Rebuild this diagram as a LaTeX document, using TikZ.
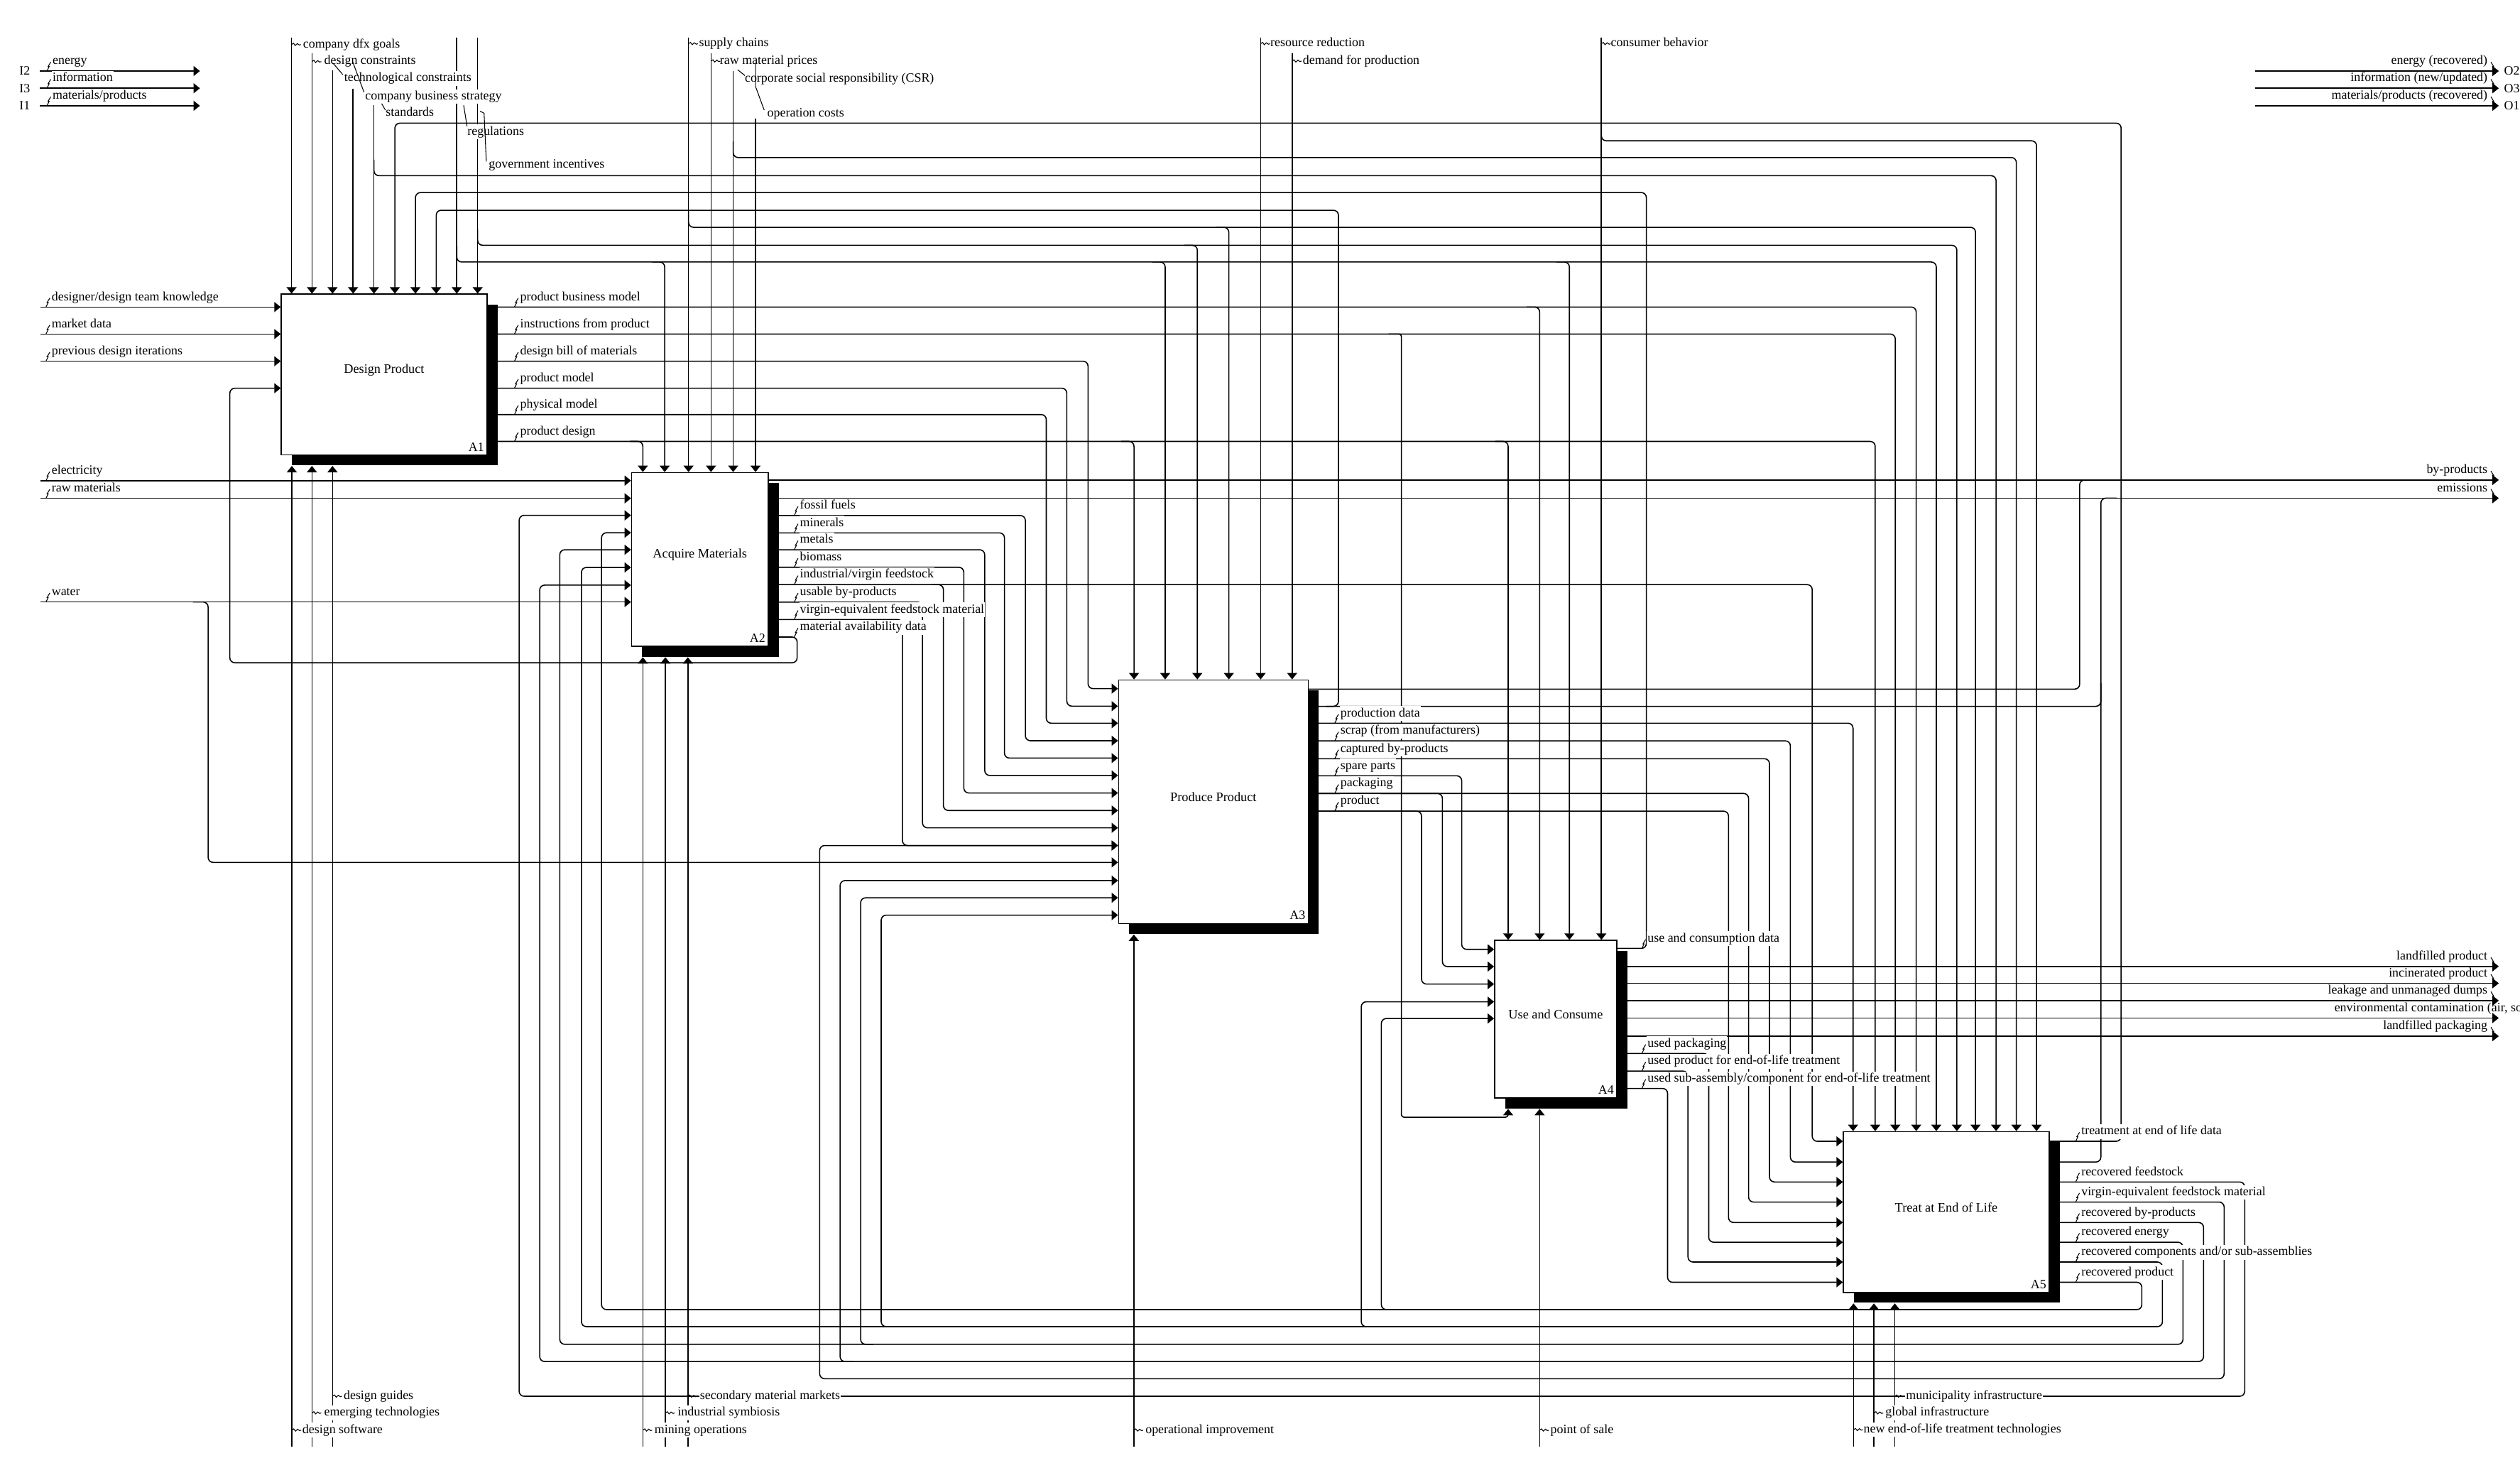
\documentclass[tikz,border=0pt]{standalone}
\usepackage{fontspec}
\setmainfont{Liberation Serif}
\usetikzlibrary{calc,fit,shadows,arrows.meta}
\newcommand\idefont{\fontsize{5.1}{6}\selectfont}
\tikzset{
  flow/.style={line width=0.45pt, rounded corners=2pt},
  arr/.style={flow, -{Triangle[length=0.9mm,width=1.4mm]}},
  procbox/.style={draw, line width=0.45pt, fill=white, inner sep=0pt,
    drop shadow={shadow xshift=1.47mm, shadow yshift=-1.47mm, fill=black, opacity=1},
    font=\fontsize{5.2}{6}\selectfont, text height=3.6pt, text depth=8.9pt},
  boxnum/.style={anchor=south east, inner xsep=1.2pt, inner ysep=1.6pt, font=\idefont},
  lbl/.style={fill=white, inner xsep=0.3pt, inner ysep=0.6pt, text height=3.6pt,
    text depth=1.1pt, anchor=base west, font=\idefont},
  rlbl/.style={lbl, fill=none, anchor=base east},
  leader/.style={line width=0.3pt},
  sqh/.pic={\draw[leader] (0,0) -- (1.2,-0.8) -- (2.3,0.6) -- (3.6,-0.6) -- (4.8,0.3) -- (5.8,0);},
  sqv/.pic={\draw[leader] (0,0) -- (1.4,-2.8) -- (0.7,-2.8) -- (2.4,-5.6);}
}
\begin{document}
\begin{tikzpicture}[x=0.2263mm, y=-0.2263mm]
  \fill[white] (0,0) rectangle (1568,909.7);
  \useasboundingbox (0,0) rectangle (1568,909.7);

  \node[procbox, fit={(175,183) (303,283)}] (A1) {Design Product};
  \node[procbox, fit={(393,294) (478,402)}] (A2) {Acquire Materials};
  \node[procbox, fit={(696,423) (814,574.5)}] (A3) {Produce Product};
  \node[procbox, fit={(930,585) (1006,683)}] (A4) {Use and Consume};
  \node[procbox, fit={(1147,704) (1275,804)}] (A5) {Treat at End of Life};
  \foreach \b in {A1,A2,A3,A4,A5}{
    \node[boxnum] (num\b) at (\b.south east) {\b};
    \coordinate (sh\b) at ($(\b.south)+(0,6.5)$);
  }

  \draw[arr] (24.8,44.2) coordinate (I2s) -- (124.4,44.2) coordinate (I2e);
  \draw[arr] (24.8,54.9) coordinate (I3s) -- (124.4,54.9) coordinate (I3e);
  \draw[arr] (24.8,65.8) coordinate (I1s) -- (124.4,65.8) coordinate (I1e);
  \draw[arr] (1403,44.2) coordinate (O2s) -- (1554.8,44.2) coordinate (O2e);
  \draw[arr] (1403,54.9) coordinate (O3s) -- (1554.8,54.9) coordinate (O3e);
  \draw[arr] (1403,65.8) coordinate (O1s) -- (1554.8,65.8) coordinate (O1e);

  \foreach \x/\y/\n/\b in {181.4/23.3/dfx/A1, 194.1/33.1/dcon/A1, 206.9/43.9/tcon/A1,
      219.7/55.2/cbs/A1, 232.7/65.5/std/A1, 284.2/23.3/reg/A1, 297.2/23.3/gov/A1,
      428.4/23.3/sup/A2, 442.4/33.1/rmp/A2, 456.2/44/csr/A2, 470.1/74/opc/A2,
      784.4/23.3/res/A3, 804/33.1/dem/A3, 996.4/23.3/cons/A4}
    \draw[arr] (\x,\y) coordinate (\n) -- (\b.north -| \n);
  \foreach \x/\y/\e in {232.7/109.3/1242, 284.2/163/1204.8, 297.2/152.6/1217.6,
      428.4/141.4/1229.2, 456.2/98/1254.6, 996.4/87.6/1267.2}
    \draw[arr] (\x,\y-10) -- (\x,\y) -- (\e,\y) -- (A5.north -| \e,0);
  \foreach \x/\y/\b in {413.6/163/A2, 725/163/A3, 976.5/163/A4, 745/152.6/A3,
      764.6/141.4/A3, 958/191/A4, 400/274.6/A2, 705.6/274.6/A3, 938.4/274.6/A4}
    \draw[arr] (\x-8,\y) -- (\x,\y) -- (\b.north -| \x,0);

  \foreach \y/\n/\b in {191/ddk/A1, 207.8/mkt/A1, 224.7/pdi/A1, 299/elec/A2, 310/rawm/A2, 374.5/wat/A2}
    \draw[arr] (25.3,\y) coordinate (\n) -- (\b.west |- \n);
  \draw[arr] (120,374.5) -- (129.5,374.5) -- (129.5,536.5) -- (A3.west |- 0,536.5);

  \foreach \y/\x in {191/1192.3, 207.8/1179.3, 274.6/1166.8}
    \draw[arr] (A1.east |- 0,\y) -- (\x,\y) -- (A5.north -| \x,0);
  \foreach \y/\x/\t in {224.7/677/428.4, 241.5/663.8/439.3, 257.9/651/449.9}
    \draw[arr] (A1.east |- 0,\y) -- (\x,\y) -- (\x,\t) -- (A3.west |- 0,\t);
  \draw[arr, rounded corners=1pt] (864,207.8) -- (872,207.8) -- (872,695) -- (938.4,695) -- (shA4 -| 938.4,0);

  \draw[arr] (A2.east |- 0,298.6) -- (1554.8,298.6) coordinate (byp);
  \draw[arr] (A2.east |- 0,309.9) -- (1554.8,309.9) coordinate (emi);
  \foreach \y/\x/\t in {320.7/638/460.8, 331.5/625/471.6, 342/612.7/482.4, 352.9/599.7/493.3,
      374.6/574/515, 385.4/561.5/526}
    \draw[arr] (A2.east |- 0,\y) -- (\x,\y) -- (\x,\t) -- (A3.west |- 0,\t);
  \draw[arr] (A2.east |- 0,363.7) -- (1127.6,363.7) -- (1127.6,710) -- (A5.west |- 0,710);
  \draw[arr] (580,363.7) -- (587,363.7) -- (587,504.2) -- (A3.west |- 0,504.2);
  \draw[arr] (A2.east |- 0,396.3) -- (496,396.3) -- (496,412.3) -- (143,412.3) -- (143,241.5) -- (A1.west |- 0,241.5);

  \draw[flow] (A3.east |- 0,428.7) -- (1294,428.7) -- (1294,298.6) -- (1304,298.6);
  \draw[flow] (A3.east |- 0,439.4) -- (1307.2,439.4) -- (1307.2,425);
  \draw[arr] (825,439.4) -- (832.8,439.4) -- (832.8,130.8) -- (271.4,130.8) -- (A1.north -| 271.4,0);
  \draw[arr] (A3.east |- 0,449.9) -- (1153,449.9) -- (A5.north -| 1153,0);
  \foreach \y/\x/\t in {460.9/1114/722.9, 472/1101/735.3, 493.6/1088/747.8, 504.6/1075.5/760.5}
    \draw[arr] (A3.east |- 0,\y) -- (\x,\y) -- (\x,\t) -- (A5.west |- 0,\t);
  \foreach \y/\x/\t in {482.6/909.5/590.6, 493.6/897.5/601.3, 504.6/884.5/612.2}
    \draw[arr] (A3.east |- 0,\y) -- (\x,\y) -- (\x,\t) -- (A4.west |- 0,\t);

  \draw[arr] (A4.east |- 0,590) -- (1024.4,590) -- (1024.4,119.8) -- (258.5,119.8) -- (A1.north -| 258.5,0);
  \foreach \y/\n in {601.2/lfp, 611.7/inc, 622.5/leak, 633.3/envc, 644.6/lfpk}
    \draw[arr] (A4.east |- 0,\y) -- (1554.8,\y) coordinate (\n);
  \foreach \y/\x/\t in {655.4/1063.2/772.8, 666.3/1050.3/785.1, 677.1/1037.6/797.7}
    \draw[arr] (A4.east |- 0,\y) -- (\x,\y) -- (\x,\t) -- (A5.west |- 0,\t);

  \draw[arr] (A5.east |- 0,710) -- (1319.8,710) -- (1319.8,76.6) -- (245.7,76.6) -- (A1.north -| 245.7,0);
  \draw[flow] (A5.east |- 0,722.9) -- (1307.2,722.9) -- (1307.2,309.9) -- (1317,309.9);
  \foreach \y/\x/\z/\v/\t in {735.3/1396.7/868.6/323/320.6, 760.5/1371.1/847/335.8/364,
      772.8/1358.3/836.3/348.3/342, 785.1/1345.5/825.3/361.8/353, 797.7/1332.7/814.7/374.3/331.4}
    \draw[arr] (A5.east |- 0,\y) -- (\x,\y) -- (\x,\z) -- (\v,\z) -- (\v,\t) -- (A2.west |- 0,\t);
  \draw[arr] (A5.east |- 0,747.8) -- (1383.9,747.8) -- (1383.9,857.7) -- (510,857.7) -- (510,526) -- (A3.west |- 0,526);
  \foreach \z/\x/\t in {847/522.7/547.8, 836.3/535.5/558.5, 825.3/548.3/569.3}
    \draw[arr] (\x+8,\z) -- (\x,\z) -- (\x,\t) -- (A3.west |- 0,\t);
  \foreach \z/\x/\t in {825.3/847/623.2, 814.7/859.5/633.6}
    \draw[arr] (\x+8,\z) -- (\x,\z) -- (\x,\t) -- (A4.west |- 0,\t);

  \foreach \x/\n/\b in {181.6/dsw/A1, 194.1/emt/A1, 206.9/dgd/A1, 400/mop/A2, 414/isy/A2,
      428/smm/A2, 705.5/opi/A3, 958/pos/A4, 1153.3/newt/A5, 1166/glob/A5, 1179/muni/A5}
    \draw[arr] (\x,900) coordinate (\n) -- (sh\b -| \n);

  \foreach \x/\y/\t [count=\i] in {31.4/191/{designer/design team knowledge}, 31.4/207.8/{market data},
      31.4/224.7/{previous design iterations}, 31.4/299/{electricity}, 31.4/310/{raw materials},
      31.4/374.5/{water}, 32/44.2/{energy}, 32/54.9/{information}, 32/65.8/{materials/products},
      322.9/191/{product business model}, 322.9/207.8/{instructions from product},
      322.9/224.7/{design bill of materials}, 322.9/241.5/{product model},
      322.9/257.9/{physical model}, 322.9/274.6/{product design},
      497/320.7/{fossil fuels}, 497/331.5/{minerals}, 497/342/{metals}, 497/352.9/{biomass},
      497/363.7/{industrial/virgin feedstock}, 497/374.6/{usable by-products},
      497/385.4/{virgin-equivalent feedstock material}, 497/396.3/{material availability data},
      833.3/449.9/{production data}, 833.3/460.9/{scrap (from manufacturers)},
      833.3/472/{captured by-products}, 833.3/482.6/{spare parts}, 833.3/493.6/{packaging},
      833.3/504.6/{product}, 1024.4/590/{use and consumption data}, 1024.4/655.4/{used packaging},
      1024.4/666.3/{used product for end-of-life treatment},
      1024.4/677.1/{used sub-assembly/component for end-of-life treatment},
      1294.3/710/{treatment at end of life data}, 1294.3/735.3/{recovered feedstock},
      1294.3/747.8/{virgin-equivalent feedstock material}, 1294.3/760.5/{recovered by-products},
      1294.3/772.8/{recovered energy}, 1294.3/785.1/{recovered components and/or sub-assemblies},
      1294.3/797.7/{recovered product}}{
    \node[lbl] (sl\i) at (\x,\y-4.1) {\t};
    \pic at (\x-2.8,\y) {sqv};
  }
  \foreach \y/\t [count=\i] in {44.2/{energy (recovered)}, 54.9/{information (new/updated)},
      65.8/{materials/products (recovered)}, 298.6/{by-products}, 309.9/{emissions},
      601.2/{landfilled product}, 611.7/{incinerated product}, 622.5/{leakage and unmanaged dumps},
      644.6/{landfilled packaging}}{
    \node[rlbl] (rl\i) at (1548.5,\y-4.1) {\t};
    \pic[xscale=-1] at (1552.3,\y) {sqv};
  }
  \node[lbl, fill=none] (envl) at (1451.8,629.2) {environmental contamination (air, soil, water)};
  \foreach \y/\t in {44.2/I2, 54.9/I3, 65.8/I1}
    \node[lbl, fill=none] (lg\t) at (11.3,\y+2.6) {\t};
  \foreach \y/\t in {44.2/O2, 54.9/O3, 65.8/O1}
    \node[lbl, fill=none] (lg\t) at (1557.3,\y+2.6) {\t};

  \foreach \lx/\tx/\c/\t [count=\i] in {181.4/187.8/27.7/{company dfx goals},
      194.1/201/38.3/{design constraints}, 428.4/434.2/27.2/{supply chains},
      442.4/447.2/38/{raw material prices}, 784.4/789.7/27.2/{resource reduction},
      804/809.9/38/{demand for production}, 996.4/1001.5/27.2/{consumer behavior},
      181.6/187.4/889.7/{design software}, 194.1/201/879/{emerging technologies},
      206.9/213.1/868.6/{design guides}, 400/406.5/889.7/{mining operations},
      414/420.9/879/{industrial symbiosis}, 428/434.8/868.6/{secondary material markets},
      705.5/712/889.7/{operational improvement}, 958/964/889.7/{point of sale},
      1153.3/1158.8/889.4/{new end-of-life treatment technologies},
      1166/1172.4/879/{global infrastructure}, 1179/1185.2/868.6/{municipality infrastructure}}{
    \node[lbl] (tl\i) at (\tx,\c+1.9) {\t};
    \pic at (\lx,\c) {sqh};
  }
  \node[lbl] (tcl) at (213.5,50.8) {technological constraints};
  \node[lbl] (cbsl) at (226.5,62) {company business strategy};
  \node[lbl] (stdl) at (239.3,72.3) {standards};
  \node[lbl] (regl) at (290.1,84) {regulations};
  \node[lbl] (govl) at (303.4,104.7) {government incentives};
  \node[lbl] (csrl) at (462.7,50.9) {corporate social responsibility (CSR)};
  \node[lbl] (opcl) at (476.7,72.6) {operation costs};
  \draw[leader] (207.4,39.5) -- (213.3,46.4);
  \draw[leader] (219.4,38.3) -- (226.5,57.4);
  \draw[leader] (237.5,64.5) -- (239.8,68.5);
  \draw[leader] (288.5,65.5) -- (290.6,78.5);
  \draw[leader] (298.7,69.2) -- (301.2,70.4) -- (302.6,100.5);
  \draw[leader] (459,43.4) -- (463.5,47);
  \draw[leader] (470.1,39) -- (470.1,53.8) -- (475.5,68.5);
\end{tikzpicture}
\end{document}
